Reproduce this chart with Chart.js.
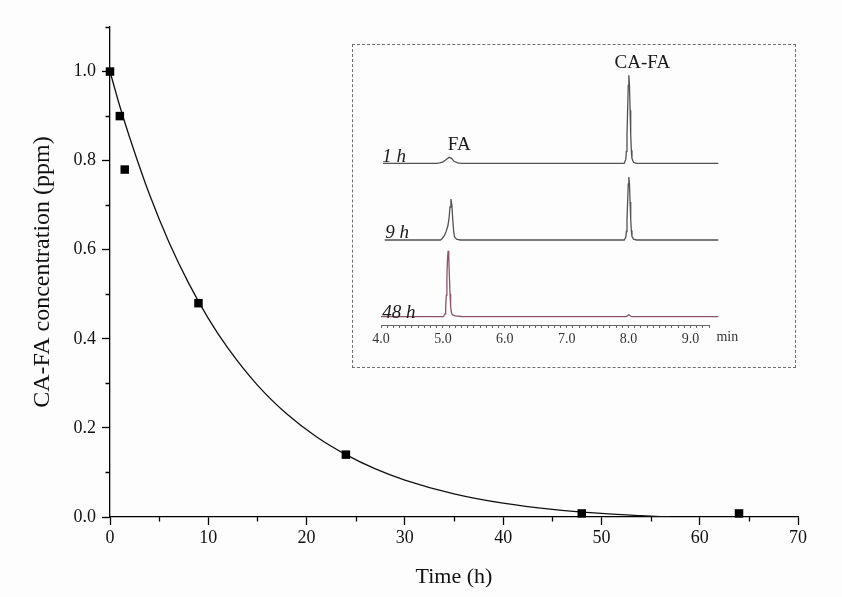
<!DOCTYPE html>
<html><head><meta charset="utf-8">
<script src="https://cdn.jsdelivr.net/npm/chart.js@4.4.1/dist/chart.umd.min.js"></script>
<style>
html,body{margin:0;padding:0;background:#fff;}
#wrap{position:relative;width:842px;height:597px;background:#fdfdfd;}
#main{position:absolute;left:0;top:0;}
#insetBox{position:absolute;left:352px;top:44px;width:442px;height:322px;border:1px dashed #707070;background:#fdfdfd;}
#inset{position:absolute;left:0;top:0;}
</style></head>
<body>
<div id="wrap">
<canvas id="main" width="842" height="597"></canvas>
<div id="insetBox"><canvas id="inset" width="442" height="322"></canvas></div>
</div>
<script>
// ---- main chart data ----
const timeH   = [0, 1, 1.5, 9, 24, 48, 64];
const concPpm = [1.0, 0.9, 0.78, 0.48, 0.14, 0.008, 0.008];
// fitted decay curve
const fitTime = [0, 1, 2, 4, 6, 8, 10, 12, 15, 18, 21, 24, 27, 30, 35, 40, 45, 50, 54, 57];
const fitConc = [1.0, 0.922, 0.852, 0.725, 0.617, 0.525, 0.446, 0.379, 0.296, 0.231, 0.180, 0.140, 0.108, 0.083, 0.052, 0.031, 0.017, 0.008, 0.003, 0.0];
const xTickLabels = [0, 10, 20, 30, 40, 50, 60, 70];
const yTickLabels = [0.0, 0.2, 0.4, 0.6, 0.8, 1.0];
const xMinor = [5, 15, 25, 35, 45, 55, 65];
const yMinor = [0.1, 0.3, 0.5, 0.7, 0.9, 1.1];

// ---- inset chromatogram data (retention time, min / signal) ----
const trace1hTime   = [4.03, 4.9, 4.95, 5.0, 5.05, 5.1, 5.14, 5.18, 5.24, 5.3, 7.93, 7.955, 7.965, 7.975, 7.985, 7.995, 8.005, 8.015, 8.025, 8.035, 8.045, 8.055, 8.08, 8.13, 9.45];
const trace1hSignal = [0, 0, 0.5, 1.5, 3.5, 6, 5, 2, 0.5, 0, 0, 3.9, 11.9, 28.6, 53, 78, 88, 78, 53, 29, 13, 5, 1, 0, 0];
const trace9hTime   = [4.06, 4.96, 4.99, 5.02, 5.05, 5.08, 5.1, 5.115, 5.13, 5.145, 5.16, 5.175, 5.19, 5.22, 5.28, 7.93, 7.955, 7.965, 7.975, 7.985, 7.995, 8.005, 8.015, 8.025, 8.035, 8.045, 8.055, 8.08, 8.13, 9.45];
const trace9hSignal = [0, 0, 1.5, 4, 8, 14, 22, 33, 41, 35, 20, 8, 3, 0.8, 0, 0, 2.8, 8.5, 20.5, 38, 56, 63, 56, 38, 21, 9.5, 3.6, 0.8, 0, 0];
const trace48hTime   = [4.0, 5.01, 5.035, 5.045, 5.055, 5.065, 5.075, 5.085, 5.095, 5.105, 5.115, 5.125, 5.135, 5.15, 5.2, 5.3, 5.4, 7.96, 7.99, 8.005, 8.02, 8.05, 9.45];
const trace48hSignal = [0, 0, 2.9, 8.9, 21.5, 40, 58.5, 66, 58.5, 41, 23, 11, 5, 2, 0.8, 0.2, 0, 0, 1.2, 2, 1.2, 0, 0];
const traceLabels = ['1 h', '9 h', '48 h'];
const peakLabels = ['FA', 'CA-FA'];
const insetTicks = [4.0, 5.0, 6.0, 7.0, 8.0, 9.0];

// ---- layout / style ----
const SERIF = '"Liberation Serif", "Times New Roman", serif';
const stackOffset = [161.7, 85, 8.3];        // vertical stacking of traces
const traceColors = ['#555052', '#555052', '#8a566e'];

const minorTicks = {
  id: 'minorTicks',
  afterDraw(chart) {
    const {ctx, scales: {x, y}} = chart;
    ctx.save();
    ctx.strokeStyle = '#000';
    ctx.lineWidth = 1.3;
    ctx.beginPath();
    xMinor.forEach(v => { const px = Math.round(x.getPixelForValue(v)) + 0.5; ctx.moveTo(px, y.bottom); ctx.lineTo(px, y.bottom + 4.5); });
    yMinor.forEach(v => { const py = Math.round(y.getPixelForValue(v)) + 0.5; ctx.moveTo(x.left, py); ctx.lineTo(x.left - 4.5, py); });
    ctx.stroke();
    ctx.restore();
  }
};

new Chart(document.getElementById('main'), {
  type: 'scatter',
  data: {
    datasets: [
      { label: 'fit', data: fitTime.map((t, i) => ({x: t, y: fitConc[i]})), showLine: true,
        borderColor: '#111', borderWidth: 1.3, pointRadius: 0, cubicInterpolationMode: 'monotone', order: 2 },
      { label: 'measured', data: timeH.map((t, i) => ({x: t, y: concPpm[i]})), showLine: false,
        pointStyle: 'rect', pointRadius: 6, backgroundColor: '#000', borderColor: '#000', borderWidth: 0, clip: false, order: 1 }
    ]
  },
  options: {
    responsive: false, animation: false,
    layout: {padding: {top: 27, right: 44, left: 0, bottom: 0}},
    plugins: {legend: {display: false}, tooltip: {enabled: false}},
    scales: {
      x: {
        type: 'linear', min: 0, max: 70,
        afterBuildTicks: s => { s.ticks = xTickLabels.map(v => ({value: v})); },
        grid: {drawOnChartArea: false, drawTicks: true, tickLength: 8, tickColor: '#000', tickWidth: 1.3},
        border: {display: true, color: '#000', width: 1.3},
        ticks: {font: {family: SERIF, size: 18}, color: '#111', padding: 2, maxRotation: 0, callback: v => String(v)},
        title: {display: true, text: 'Time (h)', font: {family: SERIF, size: 22}, color: '#111', padding: {top: 0, bottom: 7}},
        afterFit: s => { s.height = 80; }
      },
      y: {
        type: 'linear', min: 0, max: 1.1,
        afterBuildTicks: s => { s.ticks = yTickLabels.map(v => ({value: v})); },
        grid: {drawOnChartArea: false, drawTicks: true, tickLength: 8, tickColor: '#000', tickWidth: 1.3},
        border: {display: true, color: '#000', width: 1.3},
        ticks: {font: {family: SERIF, size: 18}, color: '#111', padding: 6, callback: v => Number(v).toFixed(1)},
        title: {display: true, text: 'CA-FA concentration (ppm)', font: {family: SERIF, size: 24}, color: '#111', padding: {top: 28, bottom: 0}},
        afterFit: s => { s.width = 110; }
      }
    }
  },
  plugins: [minorTicks]
});

// ---- inset ----
const traceTimes = [trace1hTime, trace9hTime, trace48hTime];
const traceSignals = [trace1hSignal, trace9hSignal, trace48hSignal];

const insetText = {
  id: 'insetText',
  afterDraw(chart) {
    const {ctx, scales: {x, y}} = chart;
    ctx.save();
    ctx.fillStyle = '#1a1a1a';
    ctx.textBaseline = 'alphabetic';
    ctx.textAlign = 'left';
    ctx.font = 'italic 19px ' + SERIF;
    const lblPos = [[4.02, 163], [4.07, 87], [4.02, 7]];
    traceLabels.forEach((t, i) => ctx.fillText(t, x.getPixelForValue(lblPos[i][0]), y.getPixelForValue(lblPos[i][1])));
    ctx.font = '19px ' + SERIF;
    const pkPos = [[5.08, 175], [7.774, 257]];
    peakLabels.forEach((t, i) => ctx.fillText(t, x.getPixelForValue(pkPos[i][0]), y.getPixelForValue(pkPos[i][1])));
    ctx.font = '14px ' + SERIF;
    ctx.fillStyle = '#333';
    ctx.textBaseline = 'middle';
    ctx.fillText('min', x.getPixelForValue(9.42), y.bottom + 12);
    ctx.restore();
  }
};

new Chart(document.getElementById('inset'), {
  type: 'scatter',
  data: {
    datasets: traceTimes.map((ts, i) => ({
      label: traceLabels[i],
      data: ts.map((t, j) => ({x: t, y: traceSignals[i][j] + stackOffset[i]})),
      showLine: true, pointRadius: 0, borderColor: traceColors[i], borderWidth: 1.3, tension: 0, clip: false
    }))
  },
  options: {
    responsive: false, animation: false,
    layout: {padding: {left: 28, right: 86, top: 0, bottom: 0}},
    plugins: {legend: {display: false}, tooltip: {enabled: false}},
    scales: {
      x: {
        type: 'linear', min: 4.0, max: 9.3,
        afterBuildTicks: s => {
          const arr = [];
          for (let k = 40; k <= 93; k++) arr.push({value: k / 10});
          s.ticks = arr;
        },
        grid: {drawOnChartArea: false, drawTicks: true, tickLength: 3, tickColor: '#666', tickWidth: 1},
        border: {display: true, color: '#666', width: 1},
        ticks: {autoSkip: false, maxRotation: 0, padding: 3, font: {family: SERIF, size: 14}, color: '#333',
          callback: function(v) { const r = Math.round(v * 10) / 10; return insetTicks.some(t => Math.abs(t - r) < 1e-6) ? r.toFixed(1) : ''; }},
        afterFit: s => { s.height = 42; }
      },
      y: {type: 'linear', min: 0, max: 280, display: false}
    }
  },
  plugins: [insetText]
});
</script>
</body></html>
